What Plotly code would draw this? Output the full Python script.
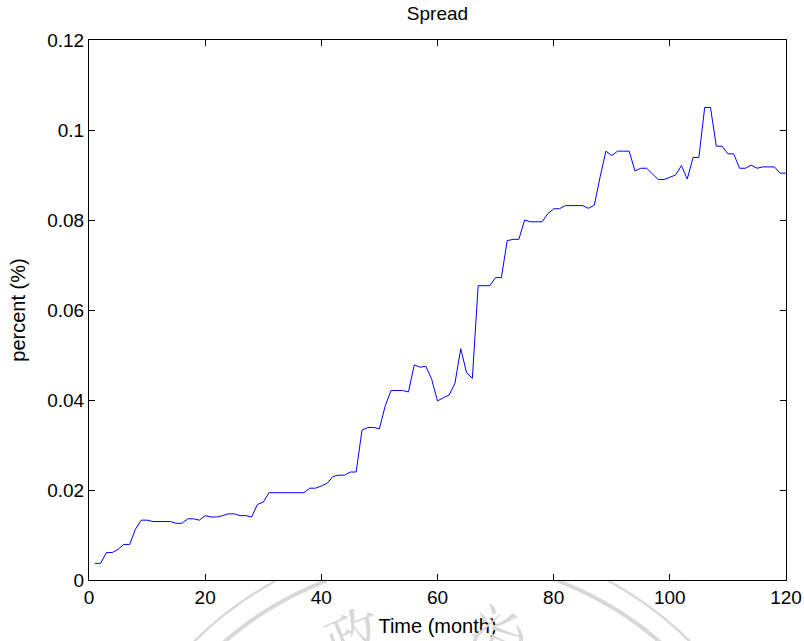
import numpy as np
import plotly.graph_objects as go

# Monthly spread series (percent)
months = list(range(1, 121))
spread = [
    0.0037, 0.0037, 0.0061, 0.0061, 0.0068, 0.0079, 0.0079, 0.0113, 0.0133, 0.0133,
    0.0130, 0.0130, 0.0130, 0.0130, 0.0126, 0.0126, 0.0136, 0.0136, 0.0133, 0.0143,
    0.0140, 0.0140, 0.0143, 0.0147, 0.0147, 0.0143, 0.0143, 0.0140, 0.0168, 0.0173,
    0.0194, 0.0194, 0.0194, 0.0194, 0.0194, 0.0194, 0.0194, 0.0204, 0.0204, 0.0209,
    0.0215, 0.0230, 0.0233, 0.0233, 0.0240, 0.0240, 0.0333, 0.0339, 0.0339, 0.0336,
    0.0387, 0.0421, 0.0421, 0.0421, 0.0418, 0.0478, 0.0473, 0.0475, 0.0446, 0.0398,
    0.0405, 0.0411, 0.0437, 0.0514, 0.0461, 0.0448, 0.0654, 0.0654, 0.0654, 0.0672,
    0.0672, 0.0754, 0.0757, 0.0757, 0.0800, 0.0796, 0.0796, 0.0796, 0.0814, 0.0825,
    0.0825, 0.0832, 0.0832, 0.0832, 0.0832, 0.0826, 0.0833, 0.0896, 0.0953, 0.0943,
    0.0953, 0.0953, 0.0953, 0.0909, 0.0915, 0.0915, 0.0902, 0.0890, 0.0890, 0.0895,
    0.0900, 0.0921, 0.0891, 0.0939, 0.0939, 0.1050, 0.1050, 0.0964, 0.0964, 0.0947,
    0.0947, 0.0915, 0.0915, 0.0922, 0.0915, 0.0918, 0.0918, 0.0918, 0.0904, 0.0904,
]

x_ticks = [0, 20, 40, 60, 80, 100, 120]
y_ticks = [0, 0.02, 0.04, 0.06, 0.08, 0.1, 0.12]
y_tick_text = ["0", "0.02", "0.04", "0.06", "0.08", "0.1", "0.12"]

W, H = 804, 641
L, R, T, B = 89, 18, 40, 61
PW, PH = W - L - R, H - T - B

FONT = "Liberation Sans, Arial, sans-serif"

fig = go.Figure()
fig.add_trace(go.Scatter(
    x=months, y=spread, mode="lines",
    line=dict(color="#0000ff", width=1),
    hoverinfo="skip", showlegend=False,
))


def to_paper(px, py):
    return (px - L) / PW, (H - B - py) / PH


# University seal watermark: two arcs peeking out under the axes
shapes = []
cx, cy = 442.0, 890.0
for radius, lw in [(330.0, 4), (351.0, 2.5)]:
    for side in (-1, 1):
        ys = np.linspace(H - B + 1, H + 5, 30)
        xs = cx + side * np.sqrt(radius ** 2 - (cy - ys) ** 2)
        pts = [to_paper(a, b) for a, b in zip(xs, ys)]
        path = "M " + " L ".join(f"{a:.5f},{b:.5f}" for a, b in pts)
        shapes.append(dict(type="path", path=path, xref="paper", yref="paper",
                           line=dict(color="#d8d8d8", width=lw), layer="below"))

annotations = []
for ch, px, py, ang in [("政", 353, 633, -22), ("治", 500, 632, 24)]:
    ax_, ay_ = to_paper(px, py)
    annotations.append(dict(text=ch, x=ax_, y=ay_, xref="paper", yref="paper",
                            showarrow=False, textangle=ang,
                            font=dict(family="Noto Serif CJK TC, Noto Sans CJK TC", size=56,
                                      color="#d8d8d8"),
                            xanchor="center", yanchor="middle"))

axis_common = dict(
    showline=True, linecolor="black", linewidth=1, mirror="ticks",
    ticks="inside", ticklen=6, tickcolor="black", tickwidth=1,
    showgrid=False, zeroline=False, automargin=False,
    tickfont=dict(family=FONT, size=19, color="black"),
)

fig.update_layout(
    width=W, height=H, autosize=False,
    margin=dict(l=L, r=R, t=T, b=B, pad=0, autoexpand=False),
    paper_bgcolor="white", plot_bgcolor="rgba(0,0,0,0)",
    title=dict(text="Spread", x=0.5, xref="paper", xanchor="center",
               y=1 - 13 / H, yref="container", yanchor="middle",
               font=dict(family=FONT, size=19, color="black")),
    xaxis=dict(range=[0, 120], tickvals=x_ticks, **axis_common,
               title=dict(text="Time (month)", standoff=12,
                          font=dict(family=FONT, size=20, color="black"))),
    yaxis=dict(range=[0, 0.12], tickvals=y_ticks, ticktext=y_tick_text, **axis_common,
               title=dict(text="percent (%)", standoff=16,
                          font=dict(family=FONT, size=20, color="black"))),
    shapes=shapes,
    annotations=annotations,
)

fig.write_html("out.html")
